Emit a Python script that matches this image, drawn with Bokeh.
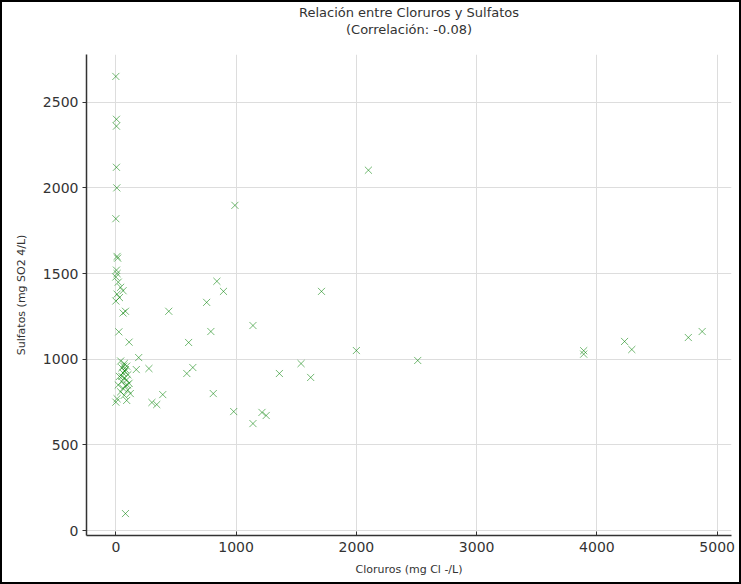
from bokeh.plotting import figure
from bokeh.models import Range1d, Title, FixedTicker
from bokeh.embed import file_html
from bokeh.resources import INLINE

# Data (mg/L)
cloruros = [
    0, 5, 5, 5, 8, 0, 10, 15, 5, 10, 0, 20, 40, 60, 10, 30, 0, 80, 60, 25, 110, 190,
    40, 70, 90, 50, 80, 60, 100, 30, 70, 90, 50, 110, 20, 80, 60, 100, 40, 120, 70, 10, 90,
    50, 75, 95, 65,
    170, 275, 640, 590, 810, 390, 300, 340, 980, 1140, 1215, 1250, 1360, 1540, 1620,
    2000, 2510, 440, 755, 840, 895, 1140, 790, 605, 990, 2100, 1710,
    3890, 3890, 4230, 4290, 4760, 4875, 80, 0,
]
sulfatos = [
    2650, 2400, 2360, 2120, 2000, 1820, 1600, 1590, 1520, 1500, 1480, 1450, 1420, 1400, 1380, 1360, 1340, 1280, 1270, 1160, 1100, 1010,
    990, 975, 960, 950, 940, 920, 910, 900, 890, 880, 870, 860, 850, 845, 830, 820, 810, 800, 790, 770, 760,
    900, 930, 850, 960,
    940, 946, 952, 917, 800, 794, 748, 736, 695, 625, 690, 672, 917, 975, 894,
    1051, 993, 1280, 1332, 1455, 1396, 1197, 1162, 1098, 1898, 2103, 1396,
    1050, 1030, 1104, 1057, 1127, 1162, 100, 750,
]
x_ticks = [0, 1000, 2000, 3000, 4000, 5000]
y_ticks = [0, 500, 1000, 1500, 2000, 2500]
title_lines = ["Relación entre Cloruros y Sulfatos", "(Correlación: -0.08)"]

FONT = "DejaVu Sans"
TXT = "#333333"

p = figure(
    width=741, height=584,
    output_backend="svg", toolbar_location=None,
    x_range=Range1d(-244, 5119), y_range=Range1d(-28, 2778),
    min_border_left=84, min_border_right=12, min_border_top=51, min_border_bottom=51,
    background_fill_color="white", border_fill_color="white",
)
p.styles = {"border": "2px solid black", "box-sizing": "border-box"}
p.outline_line_color = None

# spacer keeps the two title lines clear of the plot frame
p.add_layout(Title(text=" ", text_font=FONT, text_font_size="13px",
                   text_line_height=0.8, standoff=1, offset=0), "above")
for t in reversed(title_lines):
    p.add_layout(Title(text=t, align="center", text_font=FONT, text_font_size="13px",
                       text_font_style="normal", text_color=TXT,
                       standoff=0, offset=0), "above")

p.scatter(cloruros, sulfatos, marker="x", size=10, line_color="#008000",
          line_alpha=0.55, line_width=1)

p.xaxis.ticker = FixedTicker(ticks=x_ticks)
p.yaxis.ticker = FixedTicker(ticks=y_ticks)
p.xaxis.axis_label = "Cloruros (mg Cl -/L)"
p.yaxis.axis_label = "Sulfatos (mg SO2 4/L)"

for ax in (p.xaxis[0], p.yaxis[0]):
    ax.axis_line_color = "#333333"
    ax.axis_line_width = 1.5
    ax.major_tick_line_color = "#333333"
    ax.minor_tick_line_color = None
    ax.major_label_text_font = FONT
    ax.major_label_text_font_size = "14px"
    ax.major_label_text_color = TXT
    ax.axis_label_text_font = FONT
    ax.axis_label_text_font_size = "11px"
    ax.axis_label_text_font_style = "normal"
    ax.axis_label_text_color = TXT

p.xaxis.major_tick_in = 4
p.xaxis.major_tick_out = 0
p.xaxis.major_label_standoff = 6
p.xaxis.axis_label_standoff = 8
p.yaxis.major_tick_in = 0
p.yaxis.major_tick_out = 4
p.yaxis.major_label_standoff = 4
p.yaxis.axis_label_standoff = 12

p.grid.grid_line_color = "#dddddd"
p.grid.grid_line_width = 1

open("out.html", "w").write(file_html(p, INLINE))
